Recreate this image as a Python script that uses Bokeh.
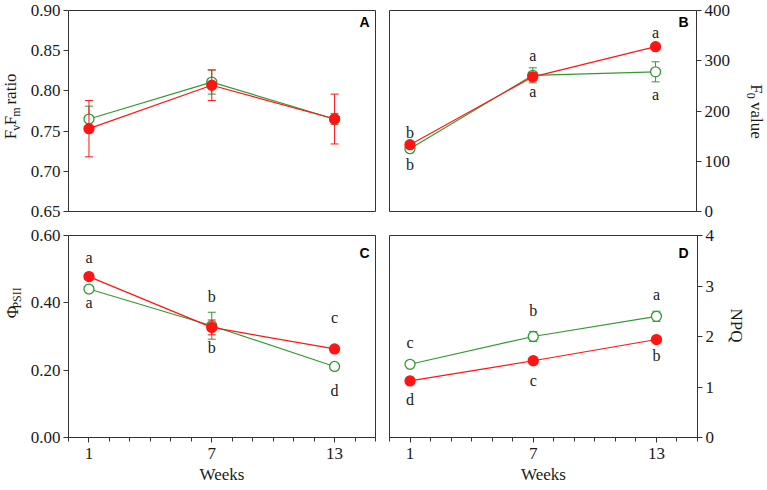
import math
from bokeh.plotting import figure
from bokeh.layouts import column, row
from bokeh.models import (ColumnDataSource, Range1d, FixedTicker, NumeralTickFormatter, Label)
from bokeh.core.properties import value
from bokeh.embed import file_html
from bokeh.resources import INLINE

# ---------------- data ----------------
weeks = [1, 7, 13]
week_minor = list(range(0, 16))

# Panel A: Fv/Fm ratio
fvfm_green = [0.765, 0.811, 0.765]
fvfm_green_err = [0.016, 0.015, 0.007]
fvfm_red = [0.753, 0.807, 0.765]
fvfm_red_err = [0.035, 0.019, 0.031]
fvfm_ticks = [0.65, 0.70, 0.75, 0.80, 0.85, 0.90]

# Panel B: F0 value
f0_green = [125, 271, 278]
f0_green_err = [7, 15, 20]
f0_red = [133, 268, 328]
f0_red_err = [5, 8, 5]
f0_ticks = [0, 100, 200, 300, 400]
f0_green_letters = ["b", "a", "a"]
f0_red_letters = ["b", "a", "a"]

# Panel C: PhiPSII
phi_green = [0.441, 0.332, 0.211]
phi_green_err = [0.005, 0.040, 0.005]
phi_red = [0.478, 0.327, 0.263]
phi_red_err = [0.006, 0.022, 0.005]
phi_ticks = [0.0, 0.2, 0.4, 0.6]
phi_green_letters = ["a", "b", "d"]
phi_red_letters = ["a", "b", "c"]

# Panel D: NPQ
npq_green = [1.45, 2.00, 2.40]
npq_green_err = [0.04, 0.10, 0.10]
npq_red = [1.12, 1.52, 1.94]
npq_red_err = [0.07, 0.04, 0.04]
npq_ticks = [0, 1, 2, 3, 4]
npq_green_letters = ["c", "b", "a"]
npq_red_letters = ["d", "c", "b"]

# ---------------- style / layout ----------------
GREEN = "#339933"
RED = "#ff1414"
AX = "#333333"
TXT = "#1a1a1a"
SERIF = "Liberation Serif"
FW = 308
LS = 27                    # left title strip
AL, AR = 40, 7             # left panels borders
BL = 7                     # right panels left border
BR_T, RS_T = 36, 33        # top-right panel right border / strip
BR_B, RS_B = 30, 39        # bottom-right panel right border / strip
T_TOP, FH_T, T_BOT = 10, 201, 12
B_TOP, FH_B, B_BOT = 12, 202, 52
TOP_H = T_TOP + FH_T + T_BOT
BOT_H = B_TOP + FH_B + B_BOT

# letter offsets in px (negative: above the point)
off_b_red = [-12, -21, -14]
off_b_green = [16, 16, 23]
off_c_red = [-19, -31, -31]
off_c_green = [13, 22, 24]
off_d_green = [-22, -26, -22]
off_d_red = [19, 20, 16]

TW = {'F': 0.556, 'v': 0.5, 'm': 0.778, ' ': 0.25, 'r': 0.333, 'a': 0.444, 't': 0.278,
      'i': 0.278, 'o': 0.5, '0': 0.5, 'l': 0.278, 'u': 0.5, 'e': 0.444, 'P': 0.556,
      'S': 0.556, 'I': 0.333, 'Φ': 0.76, 'N': 0.722, 'Q': 0.722}


def tw(s, size):
    return sum(TW.get(c, 0.5) for c in s) * size


def strip_fig(w, h):
    s = figure(width=w, height=h, x_range=Range1d(0, w), y_range=Range1d(0, h),
               output_backend="svg", toolbar_location=None, x_axis_type=None, y_axis_type=None,
               min_border=0, min_border_left=0, min_border_right=0, min_border_top=0,
               min_border_bottom=0)
    s.outline_line_color = None
    s.grid.visible = False
    return s


def rich_label(s, pieces, cx, cy_screen, row_top, row_h, up=True, sub=5):
    cy = row_h - (cy_screen - row_top)
    total = sum(tw(t, sz) for t, sz, _ in pieces)
    pos = cy - total / 2 if up else cy + total / 2
    sign = 1 if up else -1
    ang = math.pi / 2 if up else -math.pi / 2
    for t, sz, is_sub in pieces:
        lead = len(t) - len(t.lstrip(" "))
        pos += sign * tw(" " * lead, sz)
        word = t.lstrip(" ")
        dx = sign * sub if is_sub else 0
        s.text([cx + dx], [pos], text=[word], angle=ang, text_align="left",
               text_baseline="middle", text_font=value(SERIF),
               text_font_size=value(f"{sz}px"), text_color=TXT)
        pos += sign * tw(word, sz)


def make_fig(w, h, yr, side, xaxis, bl, br, bt, bb):
    p = figure(width=w, height=h, x_range=Range1d(0, 15), y_range=Range1d(*yr),
               output_backend="svg", toolbar_location=None, y_axis_location=side,
               x_axis_type=("linear" if xaxis else None),
               min_border_left=bl, min_border_right=br, min_border_top=bt, min_border_bottom=bb)
    p.grid.visible = False
    p.outline_line_color = AX
    p.outline_line_width = 1
    p.outline_line_alpha = 1
    p.background_fill_color = "white"
    p.border_fill_color = "white"
    for ax in p.axis:
        ax.axis_line_color = AX
        ax.major_tick_line_color = AX
        ax.minor_tick_line_color = AX
        ax.major_tick_out = 5
        ax.major_tick_in = 0
        ax.minor_tick_out = 4
        ax.minor_tick_in = 0
        ax.major_label_text_font = SERIF
        ax.major_label_text_font_size = "17px"
        ax.major_label_text_color = TXT
        ax.major_label_standoff = 3
    for ax in p.yaxis:
        ax.minor_tick_line_color = None
    for ax in p.xaxis:
        ax.ticker = FixedTicker(ticks=weeks, minor_ticks=week_minor)
        ax.major_label_standoff = 5
        ax.axis_label = "Weeks"
        ax.axis_label_text_font = SERIF
        ax.axis_label_text_font_size = "17px"
        ax.axis_label_text_font_style = "normal"
        ax.axis_label_text_color = TXT
        ax.axis_label_standoff = 3
    return p


def series(p, g, ge, r, re):
    p.line(weeks, g, line_color=GREEN, line_width=1.2)
    p.line(weeks, r, line_color=RED, line_width=1.2)
    for vals, errs, col, fill in ((g, ge, GREEN, "white"), (r, re, RED, RED)):
        src = ColumnDataSource(dict(x=weeks, y=vals,
                                    lo=[v - e for v, e in zip(vals, errs)],
                                    hi=[v + e for v, e in zip(vals, errs)]))
        p.segment("x", "lo", "x", "hi", source=src, line_color=col, line_width=1)
        p.scatter("x", "lo", source=src, marker="dash", size=8, line_color=col, line_width=1)
        p.scatter("x", "hi", source=src, marker="dash", size=8, line_color=col, line_width=1)
        p.scatter("x", "y", source=src, size=10, marker="circle", fill_color=fill,
                  line_color=col, line_width=1.3)


def letters(p, vals, labels, offs):
    src = ColumnDataSource(dict(x=weeks, y=vals, t=labels, off=offs))
    p.text("x", "y", text="t", source=src, y_offset="off", text_align="center",
           text_baseline="middle", text_font=value(SERIF), text_font_size=value("16px"),
           text_color=TXT)


def panel_letter(p, t, w, h, dx, dy):
    p.add_layout(Label(x=w - dx, y=h - dy, x_units="screen", y_units="screen", text=t,
                       text_align="right", text_baseline="top", text_font="Liberation Sans",
                       text_font_style="bold", text_font_size="14px", text_color="black"))


# Panel A
pa = make_fig(AL + FW + AR, TOP_H, (fvfm_ticks[0], fvfm_ticks[-1]), "left", False, AL, AR, T_TOP, T_BOT)
pa.yaxis.ticker = FixedTicker(ticks=fvfm_ticks)
pa.yaxis.formatter = NumeralTickFormatter(format="0.00")
series(pa, fvfm_green, fvfm_green_err, fvfm_red, fvfm_red_err)
panel_letter(pa, "A", FW, FH_T, 7, 3)

# Panel B
pb = make_fig(BL + FW + BR_T, TOP_H, (f0_ticks[0], f0_ticks[-1]), "right", False, BL, BR_T, T_TOP, T_BOT)
pb.yaxis.ticker = FixedTicker(ticks=f0_ticks)
series(pb, f0_green, f0_green_err, f0_red, f0_red_err)
letters(pb, f0_red, f0_red_letters, off_b_red)
letters(pb, f0_green, f0_green_letters, off_b_green)
panel_letter(pb, "B", FW, FH_T, 9, 3)

# Panel C
pc = make_fig(AL + FW + AR, BOT_H, (phi_ticks[0], phi_ticks[-1]), "left", True, AL, AR, B_TOP, B_BOT)
pc.yaxis.ticker = FixedTicker(ticks=phi_ticks)
pc.yaxis.formatter = NumeralTickFormatter(format="0.00")
series(pc, phi_green, phi_green_err, phi_red, phi_red_err)
letters(pc, phi_red, phi_red_letters, off_c_red)
letters(pc, phi_green, phi_green_letters, off_c_green)
panel_letter(pc, "C", FW, FH_B, 7, 9)

# Panel D
pd = make_fig(BL + FW + BR_B, BOT_H, (npq_ticks[0], npq_ticks[-1]), "right", True, BL, BR_B, B_TOP, B_BOT)
pd.yaxis.ticker = FixedTicker(ticks=npq_ticks)
series(pd, npq_green, npq_green_err, npq_red, npq_red_err)
letters(pd, npq_green, npq_green_letters, off_d_green)
letters(pd, npq_red, npq_red_letters, off_d_red)
panel_letter(pd, "D", FW, FH_B, 9, 9)

# axis-title strips (screen coords: page drawn from top-left corner)
lt = strip_fig(LS, TOP_H)
rich_label(lt, [("F", 17, False), ("v", 12, True), ("F", 17, False), ("m", 12, True),
                (" ratio", 17, False)], 10, 108, 0, TOP_H, up=True)
rt = strip_fig(RS_T, TOP_H)
rich_label(rt, [("F", 17, False), ("0", 12, True), (" value", 17, False)],
           756 - (LS + AL + FW + AR + BL + FW + BR_T), 110, 0, TOP_H, up=False, sub=6)
lb = strip_fig(LS, BOT_H)
rich_label(lb, [("Φ", 17, False), ("PSII", 12, True)], 12, 315, TOP_H, BOT_H, up=True, sub=4)
rb = strip_fig(RS_B, BOT_H)
rich_label(rb, [("NPQ", 17, False)], 736 - (LS + AL + FW + AR + BL + FW + BR_B), 336,
           TOP_H, BOT_H, up=False)

layout = column(row(lt, pa, pb, rt, spacing=0), row(lb, pc, pd, rb, spacing=0), spacing=0)
open("out.html", "w").write(file_html(layout, INLINE))
